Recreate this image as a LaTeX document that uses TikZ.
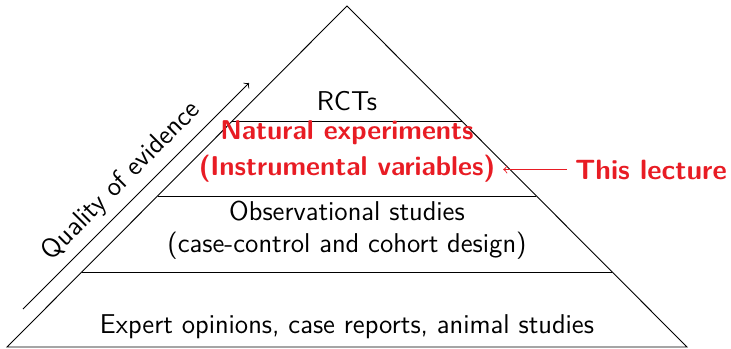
\documentclass[tikz,border=0pt]{standalone}
\usetikzlibrary{positioning,calc}
\definecolor{lecred}{RGB}{232,28,36}

\begin{document}
\begin{tikzpicture}[x=0.0155cm,y=-0.0155cm,font=\large\sffamily]
\useasboundingbox (0,0) rectangle (731,348);
\coordinate (top) at (347,6);
\coordinate (bl) at (7,347);
\coordinate (br) at (687,347);
\draw (bl) -- (top) -- (br) -- cycle;
\foreach \y in {121,196,272}
  \draw ($(top)!{(\y-6)/341}!(bl)$) -- ($(top)!{(\y-6)/341}!(br)$);
\node (rct) [anchor=base] at (347,110) {RCTs};
\node (nat) [anchor=base,text=lecred,font=\large\sffamily\bfseries] at (347,139) {Natural experiments};
\node (iv) [anchor=base,text=lecred,font=\large\sffamily\bfseries] at (347,175) {(Instrumental variables)};
\node (obs) [anchor=base] at (347,220) {Observational studies};
\node (cc) [anchor=base] at (347,252) {(case-control and cohort design)};
\node (exp) [anchor=base] at (347,333) {Expert opinions, case reports, animal studies};
\node (lecture) [anchor=base west,text=lecred,font=\fontsize{12.3}{15}\sffamily\bfseries] at (567,179) {This lecture};
\draw[<-,lecred](lecture.west -| iv.east) to (lecture.west);
\coordinate (qs) at (23,309);
\coordinate (qe) at (249,83);
\draw[->](qs) to node[midway,sloped,above] {Quality of evidence} (qe);
\end{tikzpicture}
\end{document}
